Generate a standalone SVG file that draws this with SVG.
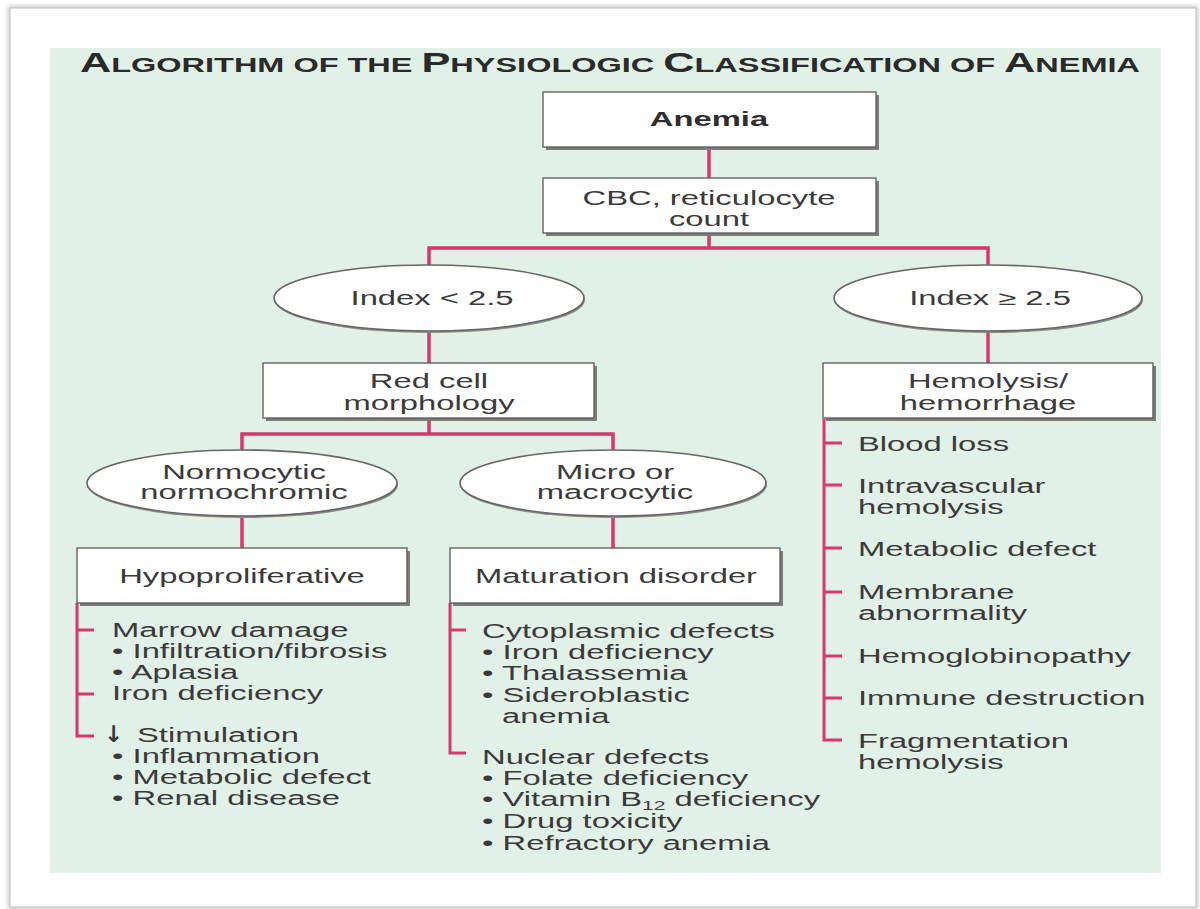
<svg xmlns="http://www.w3.org/2000/svg" width="1200" height="909" viewBox="0 0 1200 909">
<defs>
<style>
.t{font-family:"Liberation Sans",Arial,Helvetica,sans-serif;font-size:19.5px;fill:#3a3a3a}
.c{text-anchor:middle}
.b{font-weight:bold;fill:#2e2e2e}
.box{fill:#fff;stroke:#5a5a5a;stroke-width:1.3}
.sh{fill:#7c7c7c}
.ell{fill:#fff;stroke:#666;stroke-width:1.6}
.esh{fill:#8a8a8a}
.con{fill:none;stroke:#d9376a;stroke-width:3.5;stroke-linejoin:miter}
.br{fill:none;stroke:#d9376a;stroke-width:3;stroke-linejoin:miter}
</style>
<filter id="cardsh" x="-5%" y="-5%" width="110%" height="110%">
<feGaussianBlur stdDeviation="2"/>
</filter>
</defs>
<rect x="0" y="0" width="1200" height="909" fill="#fff"/>
<g id="card">
<rect x="10" y="8" width="1186" height="899" fill="none" stroke="#c4c4c4" stroke-width="4" filter="url(#cardsh)"/>
<rect x="10" y="8" width="1186" height="899" fill="#fff" stroke="#bdbdbd" stroke-width="1"/>
<rect x="50" y="48" width="1111" height="825" fill="#e1f1e7"/>
</g>
<g id="title">
<text x="80" y="72" textLength="1060" lengthAdjust="spacingAndGlyphs" style="font-family:'Liberation Sans',Arial,sans-serif;font-weight:bold;font-size:28px;fill:#2a2a2a">A<tspan font-size="21">LGORITHM OF THE </tspan>P<tspan font-size="21">HYSIOLOGIC </tspan>C<tspan font-size="21">LASSIFICATION OF </tspan>A<tspan font-size="21">NEMIA</tspan></text>
</g>
<g id="connectors">
<path class="con" d="M709,148 V178"/>
<path class="con" d="M709,234 V248"/>
<path class="con" d="M429,265 V248 H988 V265"/>
<path class="con" d="M429,331 V363"/>
<path class="con" d="M988,331 V363"/>
<path class="con" d="M429,419 V434"/>
<path class="con" d="M242,450 V434 H613 V450"/>
<path class="con" d="M242,516 V548"/>
<path class="con" d="M613,516 V548"/>
<path class="br" d="M77,603 V736 H94 M77,630 H94 M77,694 H94"/>
<path class="br" d="M450,603 V753 H466 M450,630 H466"/>
<path class="br" d="M824,419 V740 H842 M824,443 H842 M824,485 H842 M824,548 H842 M824,592 H842 M824,656 H842 M824,698 H842"/>
</g>
<g id="n-anemia">
<rect class="sh" x="546" y="95" width="333" height="55"/>
<rect class="box" x="543" y="92" width="333" height="55"/>
<text class="t c b" transform="translate(709,126) scale(1.68,1)">Anemia</text>
</g>
<g id="n-cbc">
<rect class="sh" x="546" y="181" width="333" height="55"/>
<rect class="box" x="543" y="178" width="333" height="55"/>
<text class="t c" transform="translate(709,205) scale(1.68,1)">CBC, reticulocyte</text>
<text class="t c" transform="translate(709,226) scale(1.68,1)">count</text>
</g>
<g id="n-index-low">
<ellipse class="esh" cx="430" cy="300" rx="155" ry="33"/>
<ellipse class="ell" cx="429" cy="298" rx="155" ry="33"/>
<text class="t c" transform="translate(432,305) scale(1.68,1)">Index &lt; 2.5</text>
</g>
<g id="n-index-high">
<ellipse class="esh" cx="989" cy="300" rx="154" ry="33"/>
<ellipse class="ell" cx="988" cy="298" rx="154" ry="33"/>
<text class="t c" transform="translate(990,305) scale(1.68,1)">Index ≥ 2.5</text>
</g>
<g id="n-redcell">
<rect class="sh" x="266" y="366" width="331" height="55"/>
<rect class="box" x="263" y="363" width="331" height="55"/>
<text class="t c" transform="translate(429,388) scale(1.68,1)">Red cell</text>
<text class="t c" transform="translate(429,410) scale(1.68,1)">morphology</text>
</g>
<g id="n-hemolysis">
<rect class="sh" x="826" y="366" width="330" height="55"/>
<rect class="box" x="823" y="363" width="330" height="55"/>
<text class="t c" transform="translate(988,388) scale(1.68,1)">Hemolysis/</text>
<text class="t c" transform="translate(988,410) scale(1.68,1)">hemorrhage</text>
</g>
<g id="n-normocytic">
<ellipse class="esh" cx="243" cy="485" rx="155" ry="33"/>
<ellipse class="ell" cx="242" cy="483" rx="155" ry="33"/>
<text class="t c" transform="translate(244,479) scale(1.68,1)">Normocytic</text>
<text class="t c" transform="translate(244,499) scale(1.68,1)">normochromic</text>
</g>
<g id="n-micro">
<ellipse class="esh" cx="614" cy="485" rx="153" ry="33"/>
<ellipse class="ell" cx="613" cy="483" rx="153" ry="33"/>
<text class="t c" transform="translate(615,479) scale(1.68,1)">Micro or</text>
<text class="t c" transform="translate(615,499) scale(1.68,1)">macrocytic</text>
</g>
<g id="n-hypo">
<rect class="sh" x="80" y="551" width="330" height="55"/>
<rect class="box" x="77" y="548" width="330" height="55"/>
<text class="t c" transform="translate(242,583) scale(1.68,1)">Hypoproliferative</text>
</g>
<g id="n-maturation">
<rect class="sh" x="453" y="551" width="330" height="55"/>
<rect class="box" x="450" y="548" width="330" height="55"/>
<text class="t c" transform="translate(616,583) scale(1.68,1)">Maturation disorder</text>
</g>
<g id="n-hypo-list">
<text class="t" transform="translate(112,637) scale(1.68,1)">Marrow damage</text>
<text class="t" transform="translate(112,658) scale(1.68,1)">• Infiltration/fibrosis</text>
<text class="t" transform="translate(112,679) scale(1.68,1)">• Aplasia</text>
<text class="t" transform="translate(112,700) scale(1.68,1)">Iron deficiency</text>
<text x="104" y="742" style="font-family:'DejaVu Sans',sans-serif;font-weight:bold;font-size:23px;fill:#3a3a3a">↓</text>
<text class="t" transform="translate(137,742) scale(1.68,1)">Stimulation</text>
<text class="t" transform="translate(112,763) scale(1.68,1)">• Inflammation</text>
<text class="t" transform="translate(112,784) scale(1.68,1)">• Metabolic defect</text>
<text class="t" transform="translate(112,805) scale(1.68,1)">• Renal disease</text>
</g>
<g id="n-maturation-list">
<text class="t" transform="translate(482,638) scale(1.68,1)">Cytoplasmic defects</text>
<text class="t" transform="translate(482,659) scale(1.68,1)">• Iron deficiency</text>
<text class="t" transform="translate(482,680) scale(1.68,1)">• Thalassemia</text>
<text class="t" transform="translate(482,702) scale(1.68,1)">• Sideroblastic</text>
<text class="t" transform="translate(502,723) scale(1.68,1)">anemia</text>
<text class="t" transform="translate(482,764) scale(1.68,1)">Nuclear defects</text>
<text class="t" transform="translate(482,785) scale(1.68,1)">• Folate deficiency</text>
<text class="t" transform="translate(482,806) scale(1.68,1)">• Vitamin B<tspan font-size="12.5" dy="4">12</tspan><tspan dy="-4"> deficiency</tspan></text>
<text class="t" transform="translate(482,828) scale(1.68,1)">• Drug toxicity</text>
<text class="t" transform="translate(482,850) scale(1.68,1)">• Refractory anemia</text>
</g>
<g id="n-hemolysis-list">
<text class="t" transform="translate(858,451) scale(1.68,1)">Blood loss</text>
<text class="t" transform="translate(858,493) scale(1.68,1)">Intravascular</text>
<text class="t" transform="translate(858,514) scale(1.68,1)">hemolysis</text>
<text class="t" transform="translate(858,556) scale(1.68,1)">Metabolic defect</text>
<text class="t" transform="translate(858,599) scale(1.68,1)">Membrane</text>
<text class="t" transform="translate(858,620) scale(1.68,1)">abnormality</text>
<text class="t" transform="translate(858,663) scale(1.68,1)">Hemoglobinopathy</text>
<text class="t" transform="translate(858,705) scale(1.68,1)">Immune destruction</text>
<text class="t" transform="translate(858,748) scale(1.68,1)">Fragmentation</text>
<text class="t" transform="translate(858,769) scale(1.68,1)">hemolysis</text>
</g>
</svg>
